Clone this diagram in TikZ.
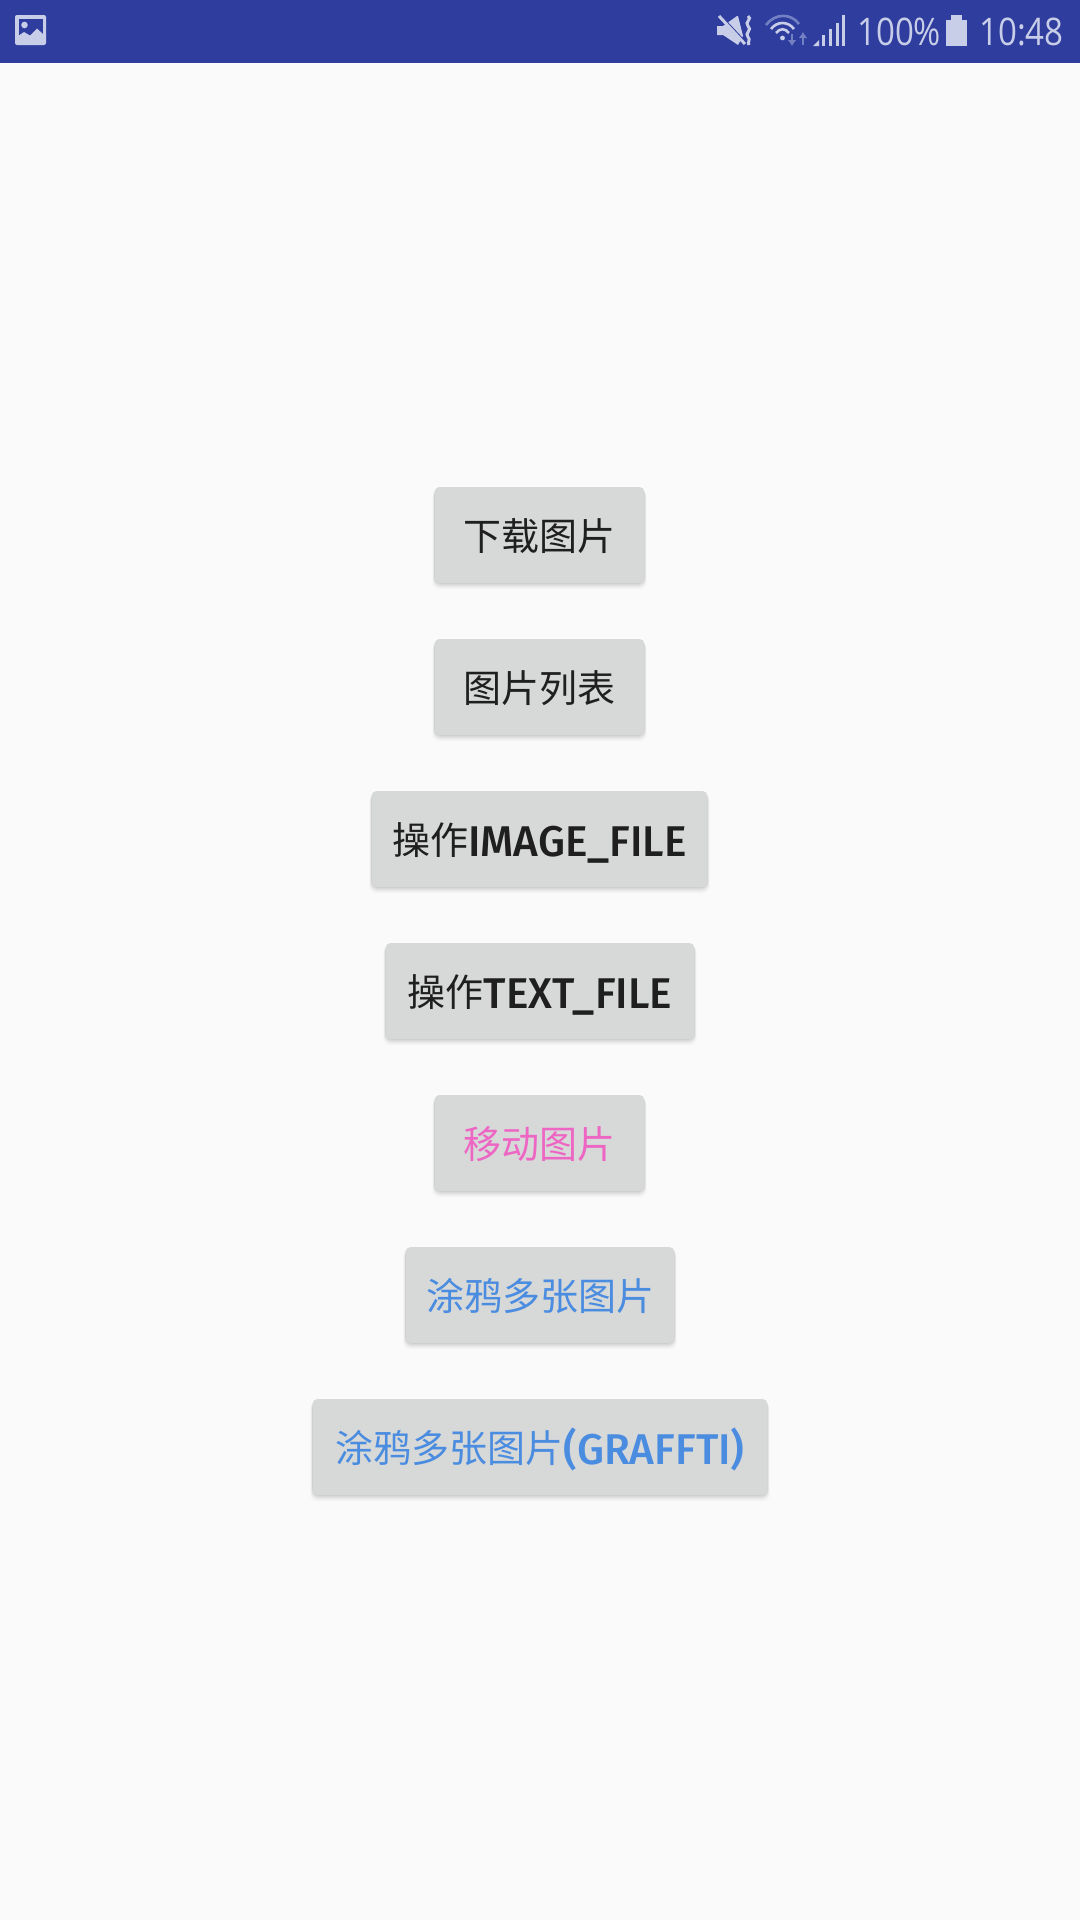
\documentclass[tikz,border=0pt]{standalone}
\usetikzlibrary{arrows.meta}
\usepackage{fontspec}
\setmainfont{Noto Sans}
\newfontfamily\cjk{Noto Sans CJK SC}
\newfontfamily\lat[FakeStretch=0.985]{Fira Sans Medium}
\newfontfamily\stat[FakeStretch=0.87]{Open Sans}
\definecolor{barblue}{HTML}{2E3D9E}
\definecolor{pagebg}{HTML}{FAFAFA}
\definecolor{btn}{HTML}{D7D8D8}
\definecolor{ink}{HTML}{1F1F1F}
\definecolor{pinktxt}{HTML}{EE66C4}
\definecolor{bluetxt}{HTML}{4A8CE0}
\definecolor{ico}{HTML}{C8CDE8}
\definecolor{icodim}{HTML}{7480C4}
\tikzset{
  x=1pt,y=-1pt,
  btnbox/.style={fill=btn,rounded corners=5pt,minimum height=96pt,inner sep=0pt,anchor=center,
    text height=40pt,text depth=10pt,
    font=\fontsize{38}{40}\selectfont\cjk,text=ink},
  stattext/.style={font=\fontsize{38}{42}\selectfont\stat,text=ico,anchor=base west,inner sep=0pt}
}
\newcommand{\bt}[1]{\raisebox{-2pt}{\fontsize{43}{46}\selectfont\lat #1}}
\begin{document}
\begin{tikzpicture}
\useasboundingbox (0,0) rectangle (1080,1920);
\fill[pagebg] (0,0) rectangle (1080,1920);
\fill[barblue] (0,0) rectangle (1080,63);
% gallery icon
\fill[ico,rounded corners=2pt] (15,15) rectangle (46,45);
\fill[barblue] (18.5,19) rectangle (42.5,38);
\fill[ico] (24.5,25) circle (3.3);
\fill[ico] (18,36) -- (24,32) -- (30,35.5) -- (37,28.5) -- (43,34) -- (43,41) -- (18,41) -- cycle;
% mute icon
\fill[ico] (717,26) -- (723,26) -- (737,16) -- (738,16) -- (743,36) -- (738,45) -- (723,35) -- (717,35) -- cycle;
\draw[barblue,line width=3.5pt] (716,12) -- (747,45);
\draw[ico,line width=3pt] (719,16) -- (745,44);
\draw[ico,line width=3pt] (748,16) .. controls (753,19) and (744,22) .. (748,26) .. controls (753,30) and (744,33) .. (748,37) .. controls (751,40) and (747,42) .. (749,45);
% wifi
\draw[icodim,line width=2.6pt] (766,25) .. controls (775,13) and (791,13) .. (799,24);
\draw[ico,line width=2.6pt] (771,29) .. controls (777,21) and (788,21) .. (794,29);
\draw[ico,line width=2.6pt] (776,33) .. controls (780,28) and (785,28) .. (789,33);
\fill[ico] (782.5,38) circle (2.4);
\draw[icodim,line width=2.6pt,-{Latex[length=6pt,width=9pt]}] (792,34) -- (792,46);
\draw[icodim,line width=2.6pt,-{Latex[length=6pt,width=9pt]}] (803,45) -- (803,32);
% signal
\fill[ico] (813,46) -- (819,40) -- (819,46) -- cycle;
\fill[ico] (822,46) rectangle (825,35);
\fill[ico] (829,46) rectangle (832,29);
\fill[ico] (836,46) rectangle (839,23);
\fill[ico] (842,46) rectangle (845,15);
% texts
\node[stattext] (pct) at (857,45.5) {100\%};
\fill[ico] (946,20) rectangle (967,46);
\fill[ico] (951,15) rectangle (962,21);
\node[stattext] (clock) at (979,45.5) {10:48};
% buttons
\foreach \xa/\xb/\yc in {434/645/535,434/645/687,371/708/839,385/695/991,434/645/1143,405/675/1295,312/768/1447}{
  \foreach \d/\o in {1/.05,2/.04,3/.035,4/.03,5/.025,6/.02,7/.012,8/.008}
    \fill[black,fill opacity=\o,rounded corners=7pt] (\xa-\d*.35+1,\yc-46) rectangle (\xb+\d*.35-1,\yc+47+\d);
}
\node[btnbox,minimum width=210pt] (b1) at (539.5,535) {下载图片};
\node[btnbox,minimum width=210pt] (b2) at (539.5,687) {图片列表};
\node[btnbox,minimum width=336pt] (b3) at (539.5,839) {操作\bt{IMAGE\_FILE}};
\node[btnbox,minimum width=309pt] (b4) at (540,991) {操作\bt{TEXT\_FILE}};
\node[btnbox,minimum width=210pt,text=pinktxt] (b5) at (539.5,1143) {移动图片};
\node[btnbox,minimum width=269pt,text=bluetxt] (b6) at (540,1295) {涂鸦多张图片};
\node[btnbox,minimum width=455pt,text=bluetxt] (b7) at (540,1447) {涂鸦多张图片\bt{(GRAFFTI)}};
\end{tikzpicture}
\end{document}
